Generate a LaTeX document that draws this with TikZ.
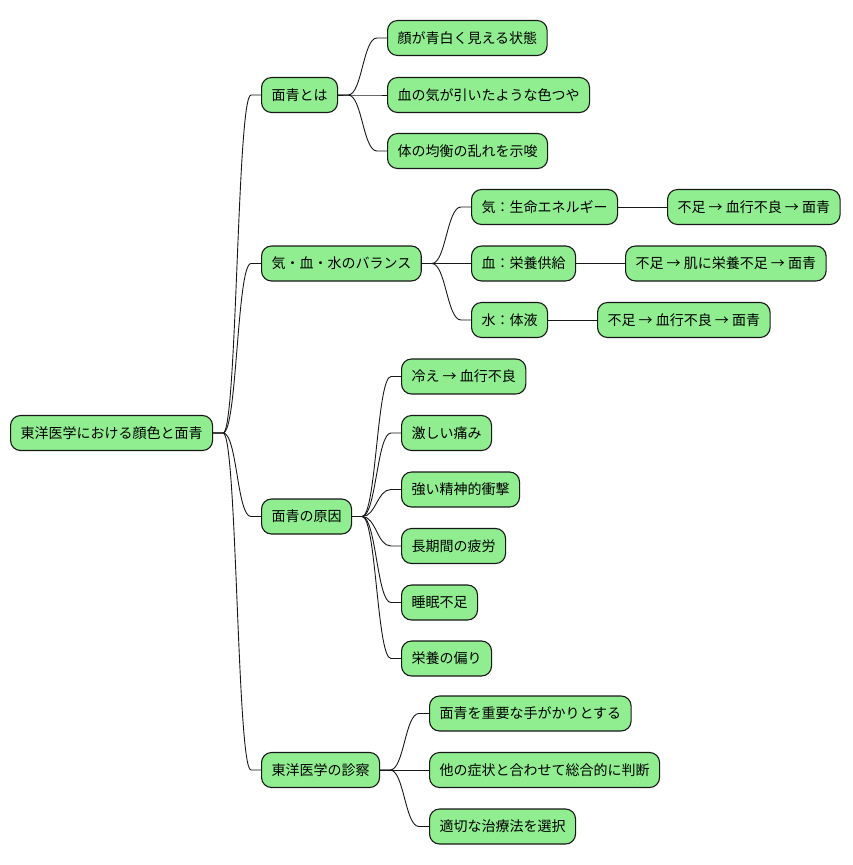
\documentclass[tikz,border=0pt]{standalone}
\usepackage{fontspec}
\setmainfont{Noto Sans CJK JP}
\usetikzlibrary{calc}
\definecolor{mmfill}{HTML}{90EE90}
\definecolor{mmline}{HTML}{181818}
\tikzset{
  mmnode/.style={draw=mmline, fill=mmfill, line width=1.1pt, rounded corners=10pt,
    minimum height=35pt, inner xsep=10pt, inner ysep=0pt, anchor=west,
    font=\fontsize{14pt}{17pt}\selectfont, text=black},
  conn/.style={draw=mmline, line width=0.9pt}
}
\newcommand{\mmcurve}[2]{\draw[conn] (#1.east) -- ++(10,0) to[out=0,in=180,distance=14pt] ($(#2.west)+(-10,0)$) -- (#2.west);}
\newcommand{\mmstraight}[2]{\draw[conn] (#1.east) -- (#2.west);}
\begin{document}
\begin{tikzpicture}[x=1pt,y=-1pt]
\useasboundingbox (0,0) rectangle (852,865);
\node[mmnode] (root) at (10,433) {東洋医学における顔色と面青};
\node[mmnode] (a) at (261,95) {面青とは};
\node[mmnode] (b) at (261,263.5) {気・血・水のバランス};
\node[mmnode] (c) at (261,516.5) {面青の原因};
\node[mmnode] (d) at (261,770) {東洋医学の診察};
% a children
\node[mmnode] (a1) at (387,38) {顔が青白く見える状態};
\node[mmnode] (a2) at (387,95) {血の気が引いたような色つや};
\node[mmnode] (a3) at (387,151) {体の均衡の乱れを示唆};
% b children
\node[mmnode] (b1) at (471,207) {気：生命エネルギー};
\node[mmnode] (b2) at (471,263.5) {血：栄養供給};
\node[mmnode] (b3) at (471,320) {水：体液};
\node[mmnode] (b1x) at (667,207) {不足 → 血行不良 → 面青};
\node[mmnode] (b2x) at (625,263.5) {不足 → 肌に栄養不足 → 面青};
\node[mmnode] (b3x) at (597,320) {不足 → 血行不良 → 面青};
% c children
\node[mmnode] (c1) at (401,376.5) {冷え → 血行不良};
\node[mmnode] (c2) at (401,433) {激しい痛み};
\node[mmnode] (c3) at (401,489.5) {強い精神的衝撃};
\node[mmnode] (c4) at (401,546) {長期間の疲労};
\node[mmnode] (c5) at (401,602.5) {睡眠不足};
\node[mmnode] (c6) at (401,658.5) {栄養の偏り};
% d children
\node[mmnode] (d1) at (429,713.5) {面青を重要な手がかりとする};
\node[mmnode] (d2) at (429,770) {他の症状と合わせて総合的に判断};
\node[mmnode] (d3) at (429,826.5) {適切な治療法を選択};
% connectors
\mmcurve{root}{a}
\mmcurve{root}{b}
\mmcurve{root}{c}
\mmcurve{root}{d}
\mmcurve{a}{a1}
\mmcurve{a}{a2}
\mmcurve{a}{a3}
\mmcurve{b}{b1}
\mmcurve{b}{b2}
\mmcurve{b}{b3}
\mmstraight{b1}{b1x}
\mmstraight{b2}{b2x}
\mmstraight{b3}{b3x}
\mmcurve{c}{c1}
\mmcurve{c}{c2}
\mmcurve{c}{c3}
\mmcurve{c}{c4}
\mmcurve{c}{c5}
\mmcurve{c}{c6}
\mmcurve{d}{d1}
\mmcurve{d}{d2}
\mmcurve{d}{d3}
\end{tikzpicture}
\end{document}
